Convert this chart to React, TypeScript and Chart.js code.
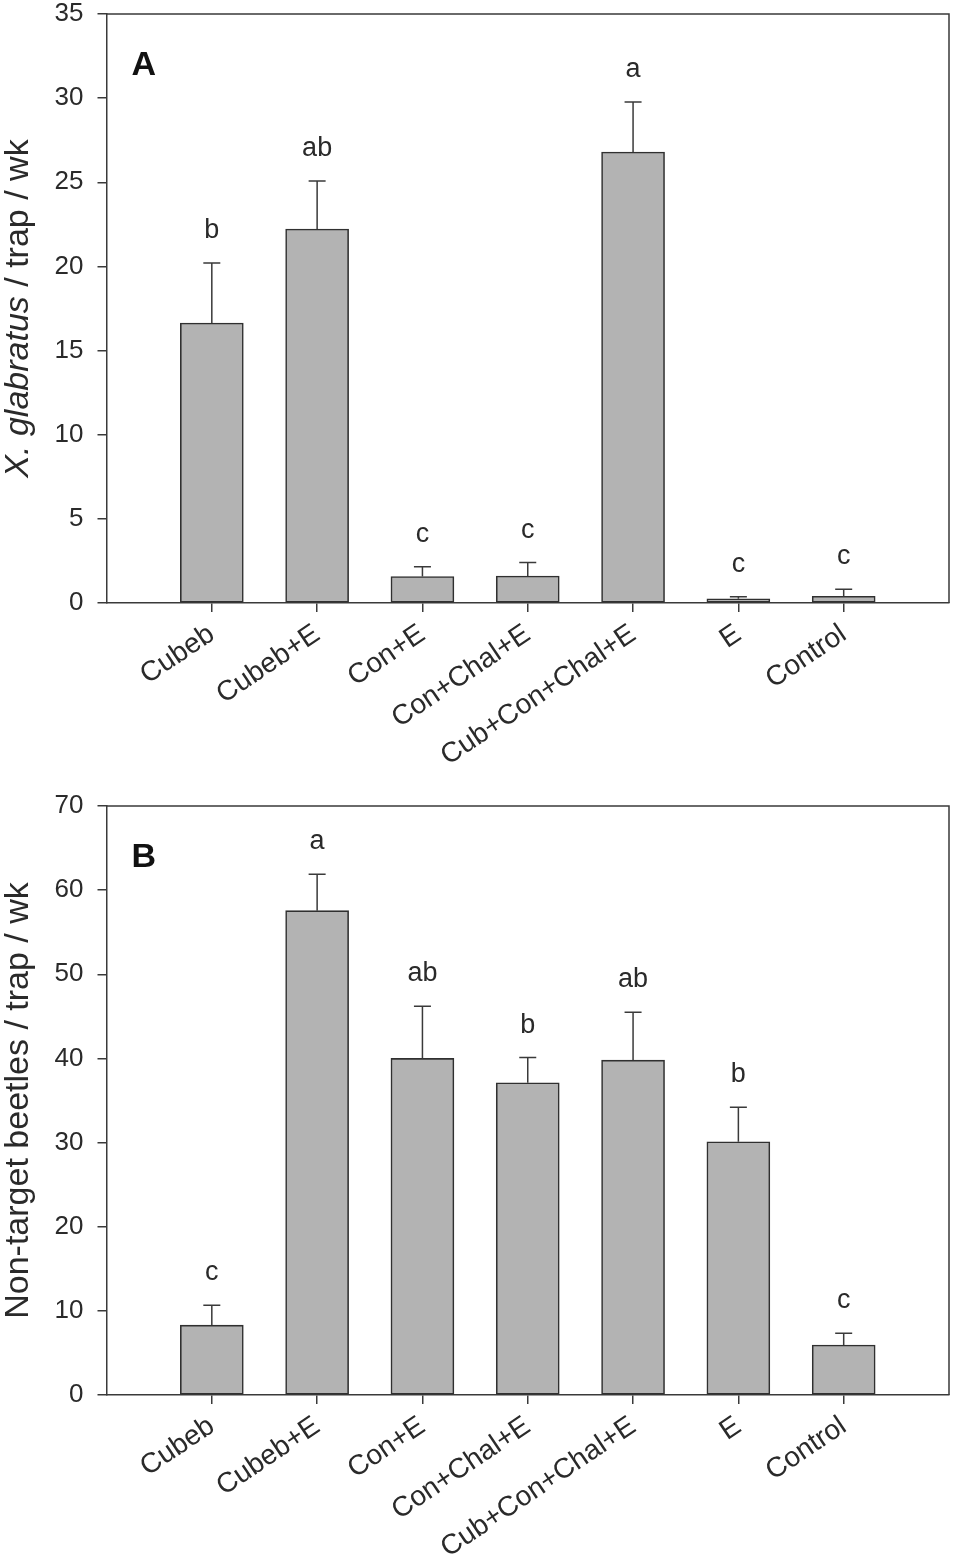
import React, { useEffect, useRef } from 'react';
import { Chart, registerables } from 'chart.js';

Chart.register(...registerables);

const categories = ['Cubeb', 'Cubeb+E', 'Con+E', 'Con+Chal+E', 'Cub+Con+Chal+E', 'E', 'Control'];

const meansA = [16.64, 22.22, 1.57, 1.6, 26.8, 0.25, 0.4];
const errorsA = [3.57, 2.85, 0.58, 0.8, 2.97, 0.12, 0.41];
const lettersA = ['b', 'ab', 'c', 'c', 'a', 'c', 'c'];

const meansB = [8.3, 57.56, 40.0, 37.1, 39.8, 30.1, 5.94];
const errorsB = [2.36, 4.34, 6.2, 3.0, 5.7, 4.1, 1.4];
const lettersB = ['c', 'a', 'ab', 'b', 'ab', 'b', 'c'];

const yMaxA = 35;
const yStepA = 5;
const yMaxB = 70;
const yStepB = 10;

const FONT = '"Liberation Sans", Arial, Helvetica, sans-serif';
const INK = '#2a2a2a';
const LINE = '#3a3a3a';

type TitlePart = { text: string; italic: boolean };

const titleA: TitlePart[] = [
  { text: 'X. glabratus', italic: true },
  { text: ' / trap / wk', italic: false },
];
const titleB: TitlePart[] = [{ text: 'Non-target beetles / trap / wk', italic: false }];

interface PanelProps {
  means: number[];
  errors: number[];
  letters: string[];
  yMax: number;
  yStep: number;
  title: TitlePart[];
  panel: string;
  height: number;
  padTop: number;
  xAxisHeight: number;
  top: number;
}

function Panel(p: PanelProps) {
  const ref = useRef<HTMLCanvasElement | null>(null);
  useEffect(() => {
    if (!ref.current) return;
    const labels = ['', ...categories, ''];
    const data = [null, ...p.means, null];

    const overlay = {
      id: 'overlay' + p.panel,
      afterDatasetsDraw(chart: any) {
        const ctx = chart.ctx;
        const xs = chart.scales.x;
        const ys = chart.scales.y;
        const area = chart.chartArea;
        ctx.save();
        ctx.strokeStyle = LINE;
        ctx.lineWidth = 1.5;
        p.means.forEach((m, i) => {
          const x = xs.getPixelForValue(i + 1);
          const y0 = ys.getPixelForValue(m);
          const y1 = ys.getPixelForValue(m + p.errors[i]);
          ctx.beginPath();
          ctx.moveTo(x, y0);
          ctx.lineTo(x, y1);
          ctx.moveTo(x - 8.5, y1);
          ctx.lineTo(x + 8.5, y1);
          ctx.stroke();
          ctx.fillStyle = INK;
          ctx.font = `27px ${FONT}`;
          ctx.textAlign = 'center';
          ctx.textBaseline = 'alphabetic';
          ctx.fillText(p.letters[i], x, y1 - 25);
        });
        ctx.strokeStyle = LINE;
        ctx.lineWidth = 1.5;
        ctx.beginPath();
        ctx.moveTo(area.left, area.top);
        ctx.lineTo(area.right, area.top);
        ctx.lineTo(area.right, area.bottom);
        ctx.stroke();
        ctx.fillStyle = '#111';
        ctx.font = `bold 34px ${FONT}`;
        ctx.textAlign = 'left';
        ctx.fillText(p.panel, area.left + 25, area.top + 61);
        ctx.translate(19, (area.top + area.bottom) / 2);
        ctx.rotate(-Math.PI / 2);
        ctx.textBaseline = 'middle';
        ctx.fillStyle = INK;
        let total = 0;
        const widths = p.title.map((t) => {
          ctx.font = `${t.italic ? 'italic ' : ''}34px ${FONT}`;
          const w = ctx.measureText(t.text).width;
          total += w;
          return w;
        });
        let cx = -total / 2;
        p.title.forEach((t, i) => {
          ctx.font = `${t.italic ? 'italic ' : ''}34px ${FONT}`;
          ctx.fillText(t.text, cx, 0);
          cx += widths[i];
        });
        ctx.restore();
      },
    };

    const chart = new Chart(ref.current, {
      type: 'bar',
      data: {
        labels,
        datasets: [
          {
            data: data as any,
            backgroundColor: '#b3b3b3',
            borderColor: '#303030',
            borderWidth: 1.6,
            borderSkipped: false,
            barThickness: 63,
          },
        ],
      },
      options: {
        animation: false,
        responsive: false,
        devicePixelRatio: 1,
        layout: { padding: { top: p.padTop, right: 4, left: 0, bottom: 0 } },
        plugins: {
          legend: { display: false },
          tooltip: { enabled: false },
        },
        scales: {
          x: {
            type: 'category',
            offset: false,
            afterBuildTicks(scale: any) {
              scale.ticks = scale.ticks.filter((t: any) => t.value >= 1 && t.value <= categories.length);
            },
            afterFit(scale: any) {
              scale.height = p.xAxisHeight;
              scale.paddingLeft = 0;
              scale.paddingRight = 0;
            },
            grid: {
              display: true,
              offset: false,
              drawOnChartArea: false,
              drawTicks: true,
              tickLength: 9,
              color: LINE,
              lineWidth: 1.5,
            },
            border: { display: true, color: LINE, width: 1.5 },
            ticks: {
              autoSkip: false,
              minRotation: 34,
              maxRotation: 34,
              padding: 8,
              color: INK,
              font: { family: FONT, size: 28, lineHeight: 1 },
            },
          },
          y: {
            min: 0,
            max: p.yMax,
            afterFit(scale: any) {
              scale.width = 106.5;
              scale.paddingTop = 0;
              scale.paddingBottom = 0;
            },
            grid: {
              display: true,
              drawOnChartArea: false,
              drawTicks: true,
              tickLength: 9,
              color: LINE,
              lineWidth: 1.5,
            },
            border: { display: true, color: LINE, width: 1.5 },
            ticks: {
              stepSize: p.yStep,
              padding: 14,
              color: INK,
              font: { family: FONT, size: 26, lineHeight: 1 },
            },
          },
        },
      },
      plugins: [overlay],
    });
    return () => chart.destroy();
  }, []);
  return (
    <canvas
      ref={ref}
      width={953}
      height={p.height}
      style={{ position: 'absolute', left: 0, top: p.top, width: 953, height: p.height }}
    />
  );
}

export default function App() {
  return (
    <div style={{ position: 'absolute', left: 0, top: 0, width: 953, height: 1561, background: '#fff' }}>
      <Panel
        means={meansA}
        errors={errorsA}
        letters={lettersA}
        yMax={yMaxA}
        yStep={yStepA}
        title={titleA}
        panel="A"
        height={780}
        padTop={14}
        xAxisHeight={177}
        top={0}
      />
      <Panel
        means={meansB}
        errors={errorsB}
        letters={lettersB}
        yMax={yMaxB}
        yStep={yStepB}
        title={titleB}
        panel="B"
        height={781}
        padTop={26}
        xAxisHeight={166}
        top={780}
      />
    </div>
  );
}
